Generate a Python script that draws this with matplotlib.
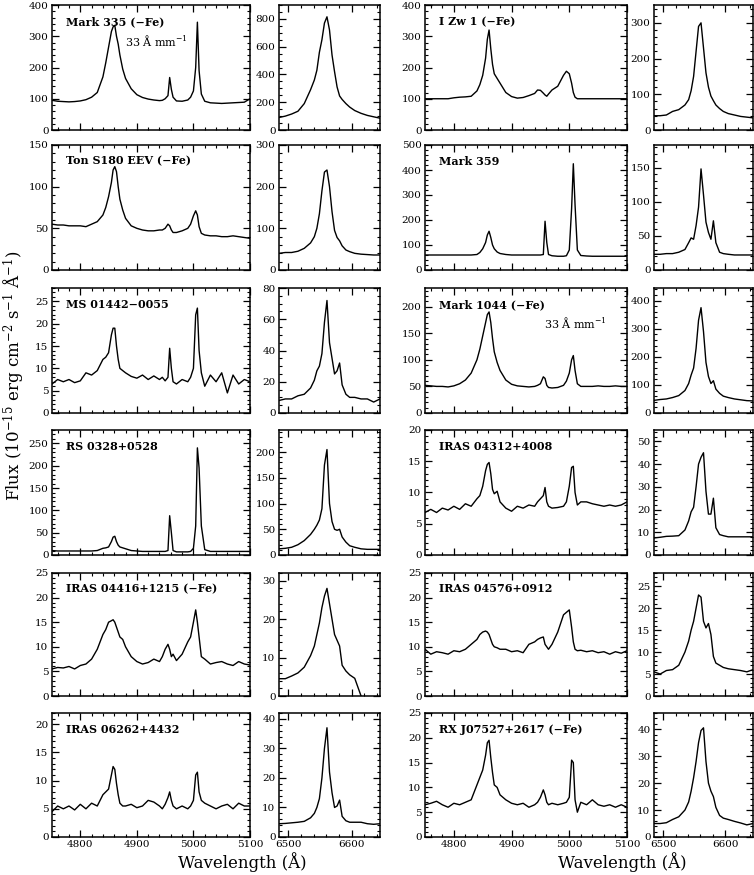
import matplotlib
matplotlib.use('Agg')
import numpy as np
import matplotlib.pyplot as plt
from matplotlib.ticker import MultipleLocator

plt.rcParams['font.family'] = ['DejaVu Serif']
plt.rcParams['mathtext.fontset'] = 'dejavuserif'

# wavelength samples (Angstrom) shared by all spectra
HB_WAVE = [4750, 4760, 4770, 4780, 4790, 4800, 4810, 4820, 4830, 4840,
           4845, 4850, 4855, 4858, 4861, 4864, 4867, 4870, 4875, 4880,
           4890, 4900, 4910, 4920, 4930, 4940, 4945, 4950, 4955, 4958,
           4961, 4964, 4970, 4980, 4990, 4995, 5000, 5004, 5007, 5010,
           5014, 5020, 5030, 5040, 5050, 5060, 5070, 5080, 5090, 5100]
HA_WAVE = [6485, 6495, 6505, 6515, 6525, 6535, 6541, 6545, 6549, 6553,
           6557, 6561, 6565, 6569, 6573, 6577, 6581, 6585, 6591, 6597,
           6605, 6615, 6625, 6635, 6645]

# left column objects
MRK335_HB = [95, 92, 91, 90, 91, 93, 97, 105, 120, 170,
             215, 265, 315, 330, 335, 300, 275, 240, 195, 165,
             132, 113, 104, 99, 96, 94, 95, 100, 110, 168,
             130, 105, 93, 92, 96, 105, 125, 200, 345, 190,
             115, 92, 87, 86, 85, 86, 87, 88, 89, 100]
MRK335_HA = [90, 100, 115, 135, 190, 290, 360, 430, 560, 650,
             770, 815, 720, 540, 420, 310, 245, 220, 190, 165,
             140, 120, 105, 95, 85]
TONS180_HB = [55, 54, 54, 53, 53, 53, 52, 55, 58, 66,
              75, 88, 105, 120, 124, 118, 100, 85, 72, 62,
              53, 50, 48, 47, 47, 48, 48, 50, 55, 53,
              48, 45, 45, 47, 50, 55, 65, 71, 66, 52,
              44, 42, 41, 41, 40, 40, 41, 40, 39, 38]
TONS180_HA = [40, 42, 42, 45, 52, 65, 80, 100, 135, 190,
              235, 240, 200, 140, 95, 78, 70, 58, 48, 44,
              40, 38, 37, 36, 36]
MS01442_HB = [6.5, 7.5, 7.0, 7.5, 6.8, 7.2, 9.0, 8.5, 9.5, 12.0,
              12.5, 13.5, 17.5, 19.0, 19.0, 15.0, 12.0, 10.0, 9.5, 9.0,
              8.2, 7.8, 8.5, 7.5, 8.3, 7.5, 8.0, 7.2, 8.0, 14.5,
              10.0, 7.0, 6.5, 7.5, 7.0, 8.0, 10.0, 22.0, 23.5, 14.0,
              9.0, 6.0, 8.5, 7.0, 9.0, 4.5, 8.5, 6.5, 7.5, 7.0]
MS01442_HA = [8, 9, 9, 11, 12, 16, 21, 27, 30, 38,
              58, 72, 45, 35, 25, 27, 32, 18, 12, 10,
              10, 9, 9, 7, 9]
RS0328_HB = [10, 9, 9, 9, 9, 9, 9, 9, 10, 15,
             16, 18, 30, 40, 42, 30, 22, 18, 16, 14,
             10, 9, 8, 8, 8, 8, 8, 8, 10, 88,
             50, 10, 7, 7, 7, 8, 15, 65, 240, 195,
             65, 12, 8, 8, 8, 8, 8, 8, 8, 8]
RS0328_HA = [12, 13, 15, 20, 28, 40, 50, 58, 68, 90,
             175, 205, 100, 65, 50, 48, 50, 35, 25, 18,
             15, 12, 11, 11, 11]
IRAS04416_HB = [5.5, 5.8, 5.7, 6.0, 5.5, 6.2, 6.5, 7.5, 9.5, 12.5,
                13.5, 15.0, 15.3, 15.5, 15.0, 14.0, 13.0, 12.0, 11.5, 10.0,
                8.0, 7.0, 6.5, 6.8, 7.5, 7.0, 8.0, 9.5, 10.5, 9.5,
                8.0, 8.5, 7.2, 8.5, 11.0, 12.0, 15.0, 17.5, 15.0, 12.0,
                8.0, 7.5, 6.5, 6.8, 7.0, 6.5, 6.2, 7.0, 6.5, 6.3]
IRAS04416_HA = [4.5, 4.5, 5.2, 6.0, 7.5, 10.5, 13, 16, 19, 23,
                26, 28, 24, 20, 16, 14.5, 13, 8, 6.5, 5.5,
                4.6, 0, np.nan, np.nan, np.nan]
IRAS06262_HB = [4.5, 5.5, 5.0, 5.5, 4.8, 5.8, 5.0, 6.0, 5.5, 7.5,
                8.0, 8.5, 11.0, 12.5, 12.0, 9.5, 7.5, 6.0, 5.5, 5.5,
                5.8, 5.2, 5.5, 6.5, 6.2, 5.5, 5.0, 5.8, 7.0, 8.0,
                6.5, 5.5, 5.0, 5.5, 5.0, 5.5, 6.5, 11.0, 11.5, 8.0,
                6.5, 6.0, 5.5, 5.0, 5.5, 5.8, 5.0, 6.0, 5.5, 5.5]
IRAS06262_HA = [4.5, 4.6, 4.8, 5.0, 5.3, 6.5, 8, 10, 13, 20,
                30, 37, 22, 15, 10, 10.5, 12.5, 7, 5.5, 5,
                5, 5, 4.5, 4.3, 4.5]

# right column objects
IZW1_HB = [100, 100, 100, 100, 100, 103, 105, 106, 108, 125,
           145, 175, 230, 290, 320, 260, 210, 180, 165, 150,
           120, 107, 102, 104, 110, 117, 128, 127, 118, 112,
           108, 115, 128, 140, 175, 188, 180, 150, 120, 105,
           100, 100, 100, 100, 100, 100, 100, 100, 100, 100]
IZW1_HA = [40, 40, 42, 52, 57, 70, 85, 110, 150, 220,
           290, 300, 230, 160, 120, 95, 82, 70, 60, 52,
           46, 42, 38, 36, 34]
MRK359_HB = [60, 60, 60, 60, 60, 60, 60, 60, 60, 62,
             70, 85, 110, 140, 155, 130, 100, 85, 72, 66,
             62, 60, 60, 60, 60, 60, 60, 60, 62, 195,
             110, 62, 57, 55, 55, 57, 80, 245, 425, 260,
             80, 58, 56, 55, 55, 55, 55, 55, 55, 55]
MRK359_HA = [23, 23, 24, 24, 26, 30, 40, 47, 45, 65,
             92, 148, 110, 70, 55, 45, 72, 40, 26, 24,
             23, 22, 22, 22, 22]
MRK1044_HB = [52, 51, 50, 50, 49, 51, 55, 62, 75, 100,
              120, 145, 170, 185, 190, 170, 140, 115, 95, 80,
              62, 54, 51, 50, 49, 50, 52, 55, 68, 65,
              52, 48, 47, 48, 52, 60, 75, 100, 108, 80,
              55, 50, 50, 50, 51, 50, 50, 51, 50, 50]
MRK1044_HA = [45, 48, 50, 55, 62, 80, 105, 135, 160, 230,
              330, 375, 290, 180, 130, 105, 115, 85, 70, 60,
              55, 50, 47, 44, 43]
IRAS04312_HB = [6.8, 7.3, 6.8, 7.5, 7.2, 7.8, 7.3, 8.2, 7.8, 9.0,
                9.5, 11.0, 13.5, 14.5, 14.8, 13.0, 10.5, 9.8, 10.2, 8.5,
                7.5, 7.0, 7.8, 7.5, 8.0, 7.8, 8.5, 9.0, 9.5, 10.8,
                8.5, 7.8, 7.5, 7.6, 7.8, 8.5, 11.0, 14.0, 14.2, 10.0,
                8.0, 8.5, 8.5, 8.2, 8.0, 7.8, 8.0, 7.8, 8.0, 8.5]
IRAS04312_HA = [7.5, 7.8, 8.2, 8.3, 8.5, 11, 15, 19, 21, 30,
                40, 43, 45, 28, 18, 18, 25, 12, 9, 8.5,
                8, 8, 8, 8, 8]
IRAS04576_HB = [9.5, 8.5, 9.0, 8.8, 8.5, 9.2, 9.0, 9.5, 10.5, 11.5,
                12.5, 13.0, 13.2, 13.0, 12.5, 11.5, 10.5, 10.0, 9.8, 9.5,
                9.5, 9.0, 9.2, 8.8, 10.5, 11.0, 11.5, 11.8, 12.0, 10.5,
                10.0, 9.5, 10.5, 13.0, 16.5, 17.0, 17.5, 14.0, 11.0, 9.5,
                9.2, 9.3, 9.0, 9.2, 8.8, 9.0, 8.5, 9.0, 8.7, 9.2]
IRAS04576_HA = [5.5, 5.0, 5.8, 6.0, 7.0, 10, 12.5, 15, 17, 20,
                23, 22.5, 17, 15.5, 16.5, 14, 9, 7.5, 7, 6.5,
                6.2, 6, 5.8, 5.5, 6.0]
RXJ0752_HB = [6.5, 6.8, 7.2, 6.5, 6.0, 6.8, 6.5, 7.0, 7.5, 10.5,
              12.0, 13.5, 16.5, 19.0, 19.5, 16.0, 13.0, 10.5, 10.0, 8.5,
              7.5, 6.8, 6.5, 6.8, 6.0, 6.5, 7.0, 8.0, 9.5, 8.5,
              7.0, 6.5, 6.8, 6.5, 6.8, 7.0, 8.0, 15.5, 15.0, 7.5,
              5.0, 7.0, 6.5, 7.5, 6.5, 6.2, 6.5, 6.0, 6.5, 6.0]
RXJ0752_HA = [5.0, 5.0, 5.3, 6.5, 7.5, 10, 13, 17, 22, 28,
              35, 39.5, 40.5, 28, 20, 17, 15, 11, 8, 7,
              6.5, 5.8, 5.2, 4.5, 5.0]

LEFT_NAMES = ['Mark 335 (\u2212Fe)', 'Ton S180 EEV (\u2212Fe)', 'MS 01442\u22120055',
              'RS 0328+0528', 'IRAS 04416+1215 (\u2212Fe)', 'IRAS 06262+4432']
RIGHT_NAMES = ['I Zw 1 (\u2212Fe)', 'Mark 359', 'Mark 1044 (\u2212Fe)',
               'IRAS 04312+4008', 'IRAS 04576+0912', 'RX J07527+2617 (\u2212Fe)']
LEFT_HB = [MRK335_HB, TONS180_HB, MS01442_HB, RS0328_HB, IRAS04416_HB, IRAS06262_HB]
LEFT_HA = [MRK335_HA, TONS180_HA, MS01442_HA, RS0328_HA, IRAS04416_HA, IRAS06262_HA]
RIGHT_HB = [IZW1_HB, MRK359_HB, MRK1044_HB, IRAS04312_HB, IRAS04576_HB, RXJ0752_HB]
RIGHT_HA = [IZW1_HA, MRK359_HA, MRK1044_HA, IRAS04312_HA, IRAS04576_HA, RXJ0752_HA]
# y axis tops and label steps
LEFT_HB_YMAX = [400, 150, 28, 280, 25, 22]
LEFT_HB_STEP = [100, 50, 5, 50, 5, 5]
LEFT_HA_YMAX = [900, 300, 80, 243, 32, 42]
LEFT_HA_STEP = [200, 100, 20, 50, 10, 10]
RIGHT_HB_YMAX = [400, 500, 235, 20, 25, 25]
RIGHT_HB_STEP = [100, 100, 50, 5, 5, 5]
RIGHT_HA_YMAX = [350, 183, 445, 55, 28, 46]
RIGHT_HA_STEP = [100, 50, 100, 10, 5, 10]

MINOR = {200: 50, 100: 20, 50: 10, 20: 5, 10: 2, 5: 1}

W, H = 754.0, 875.0
ROWS = [(5, 130), (145, 270), (288, 413), (430, 555), (573, 696), (713, 837)]
COLS = [(52, 250), (279, 380), (425, 627), (654, 753)]


def panel(fig, col, row):
    x0, x1 = COLS[col]
    y0, y1 = ROWS[row]
    return fig.add_axes([x0 / W, 1 - y1 / H, (x1 - x0) / W, (y1 - y0) / H])


def style(ax, xlim, ymax, ystep, bottom):
    ax.set_xlim(xlim)
    ax.set_ylim(0, ymax)
    ax.xaxis.set_major_locator(MultipleLocator(100))
    ax.xaxis.set_minor_locator(MultipleLocator(20))
    ax.yaxis.set_major_locator(MultipleLocator(ystep))
    ax.yaxis.set_minor_locator(MultipleLocator(MINOR[ystep]))
    ax.tick_params(which='both', direction='in', top=True, right=True,
                   labelsize=7.5, pad=2.5, labelbottom=bottom)
    ax.tick_params(which='major', length=5, width=0.9)
    ax.tick_params(which='minor', length=2.5, width=0.8)
    for s in ax.spines.values():
        s.set_linewidth(1.1)


def main():
    fig = plt.figure(figsize=(W / 100, H / 100), dpi=100)
    sides = [(0, LEFT_NAMES, LEFT_HB, LEFT_HA, LEFT_HB_YMAX, LEFT_HB_STEP, LEFT_HA_YMAX, LEFT_HA_STEP),
             (2, RIGHT_NAMES, RIGHT_HB, RIGHT_HA, RIGHT_HB_YMAX, RIGHT_HB_STEP, RIGHT_HA_YMAX, RIGHT_HA_STEP)]
    for c, names, hb, ha, hbmax, hbstep, hamax, hastep in sides:
        for i in range(6):
            bottom = (i == 5)
            ax = panel(fig, c, i)
            ax.plot(HB_WAVE, hb[i], color='black', lw=1.0)
            style(ax, (4750, 5100), hbmax[i], hbstep[i], bottom)
            ax.text(0.07, 0.87, names[i], transform=ax.transAxes, fontsize=8,
                    fontweight='bold', va='center', ha='left')
            ax2 = panel(fig, c + 1, i)
            ax2.plot(HA_WAVE, ha[i], color='black', lw=1.0)
            style(ax2, (6485, 6645), hamax[i], hastep[i], bottom)

    # plate scale notes
    fig.axes[0].text(0.37, 0.72, '33 \u00c5 mm$^{-1}$', transform=fig.axes[0].transAxes,
                     fontsize=8, va='center')
    fig.axes[16].text(0.59, 0.72, '33 \u00c5 mm$^{-1}$', transform=fig.axes[16].transAxes,
                      fontsize=8, va='center')

    fig.text(14 / W, 1 - 376 / H, 'Flux (10$^{-15}$ erg cm$^{-2}$ s$^{-1}$ \u00c5$^{-1}$)',
             rotation=90, ha='center', va='center', fontsize=12)
    fig.text(242 / W, 1 - 862 / H, 'Wavelength (\u00c5)', ha='center', va='center', fontsize=12)
    fig.text(622 / W, 1 - 862 / H, 'Wavelength (\u00c5)', ha='center', va='center', fontsize=12)

    fig.savefig('out.png', dpi=100)


if __name__ == "__main__":
    main()
